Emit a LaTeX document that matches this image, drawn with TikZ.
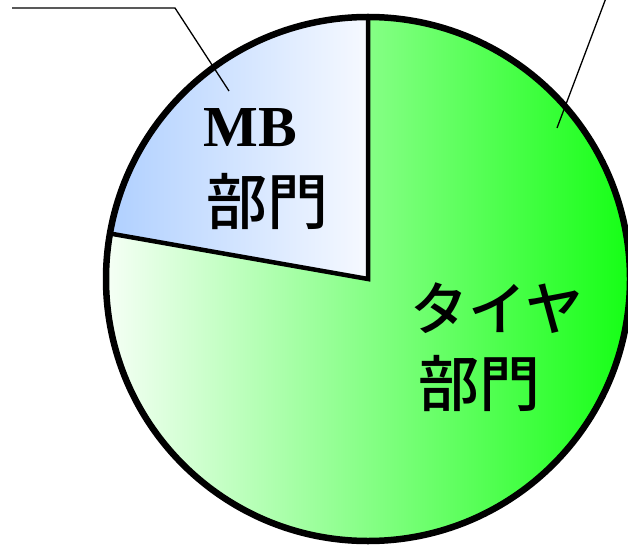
\documentclass[tikz,border=0pt]{standalone}
\usepackage{fontspec}
\setmainfont{Liberation Serif}
\newfontfamily\jpfont{Noto Sans CJK JP}[UprightFont=* Medium]
\begin{document}
\begin{tikzpicture}[x=1pt,y=1pt,
  outline/.style={line width=6.5pt,line join=round},
  radius line/.style={line width=4.5pt,line join=miter},
  leader/.style={line width=1.3pt},
  lbl/.style={inner sep=0pt,anchor=center}]
\useasboundingbox (0,0) rectangle (628,544);
\definecolor{mbleft}{HTML}{B0D0FF}
\definecolor{mbright}{HTML}{F6F9FF}
\definecolor{gmid}{HTML}{B0FFB0}
\definecolor{gright}{HTML}{10FF10}
\coordinate (c) at (368,265);
% tyre slice
\shade[left color=white,middle color=gmid,right color=gright]
  (c) -- ++(170:262) arc[start angle=170,end angle=450,radius=262] -- cycle;
% MB slice
\shade[left color=mbleft,right color=mbright]
  (c) -- ++(90:262) arc[start angle=90,end angle=170,radius=262] -- cycle;
\draw[radius line] (c) ++(90:262) -- (c) -- ++(170:262);
\draw[outline] (c) circle[radius=262];
% labels
\node[lbl,font=\bfseries\fontsize{58}{60}\selectfont] (mb) at (250,416) {MB};
\node[lbl,font=\jpfont\fontsize{61}{64}\selectfont] (mbb) at (267,342) {部門};
\node[lbl,font=\jpfont\fontsize{58}{62}\selectfont] (ty) at (497,236) {タイヤ};
\node[lbl,font=\jpfont\fontsize{61}{64}\selectfont] (tyb) at (479,161) {部門};
% leaders
\coordinate (l1a) at (12,536);
\coordinate (l1b) at (175,536);
\coordinate (l1c) at (229,453);
\coordinate (l2a) at (606,546);
\coordinate (l2b) at (557,416);
\draw[leader] (l1a) -- (l1b) -- (l1c);
\draw[leader] (l2a) -- (l2b);
\end{tikzpicture}
\end{document}
